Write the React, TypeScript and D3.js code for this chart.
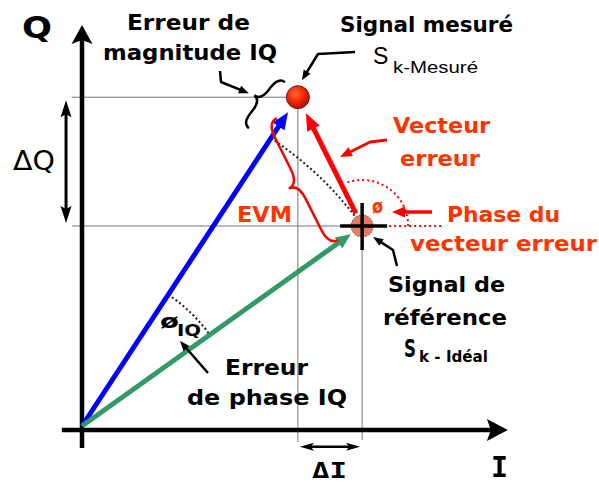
import React from 'react';
import * as d3 from 'd3';

// Points of the I/Q plane (arbitrary units)
const pointNames = ['origine', 'mesure', 'reference'];
const pointI = [0, 5.14, 6.67];
const pointQ = [0, 8.22, 5.0];

// axis extents in the same units
const axisI = [-0.48, 10.14];
const axisQ = [-0.55, 10.025];

const W = 599;
const H = 485;

const x = d3.scaleLinear().domain([0, 10]).range([82, 502]);
const y = d3.scaleLinear().domain([0, 10]).range([426, 26]);

type Pt = [number, number];

const P: Pt[] = pointNames.map((_, i) => [x(pointI[i]), y(pointQ[i])]);
const O = P[0], M = P[1], R = P[2];

const sans = "'DejaVu Sans', sans-serif";
const mono = "'DejaVu Sans Mono', monospace";
const arial = "'Liberation Sans', Arial, sans-serif";
const RED = '#ff0000';
const REDTXT = '#ff3300';

// point on segment a->b, at distance gap before b
function toward(a: Pt, b: Pt, gap: number): Pt {
  const d = Math.hypot(b[0] - a[0], b[1] - a[1]);
  return [b[0] - ((b[0] - a[0]) / d) * gap, b[1] - ((b[1] - a[1]) / d) * gap];
}

function headPts(tip: Pt, from: Pt, len: number, wid: number, notch = 0) {
  const dx = tip[0] - from[0], dy = tip[1] - from[1];
  const l = Math.hypot(dx, dy);
  const ux = dx / l, uy = dy / l, nx = -uy, ny = ux;
  const bx = tip[0] - ux * len, by = tip[1] - uy * len;
  return [
    [tip[0], tip[1]],
    [bx + (nx * wid) / 2, by + (ny * wid) / 2],
    [tip[0] - ux * (len - notch), tip[1] - uy * (len - notch)],
    [bx - (nx * wid) / 2, by - (ny * wid) / 2],
  ].map(p => p.join(',')).join(' ');
}

function Arrow({ pts, color, sw, len, wid, notch = 0, both = false }:
  { pts: Pt[]; color: string; sw: number; len: number; wid: number; notch?: number; both?: boolean }) {
  const n = pts.length;
  const line = pts.map(p => [...p] as Pt);
  line[n - 1] = toward(pts[n - 2], pts[n - 1], len * 0.7);
  if (both) line[0] = toward(pts[1], pts[0], len * 0.7);
  return (
    <g>
      <polyline points={line.map(p => p.join(',')).join(' ')} fill="none" stroke={color}
        strokeWidth={sw} strokeLinejoin="round" strokeLinecap="butt" />
      <polygon points={headPts(pts[n - 1], pts[n - 2], len, wid, notch)} fill={color} />
      {both && <polygon points={headPts(pts[0], pts[1], len, wid, notch)} fill={color} />}
    </g>
  );
}

// curly brace from a to b, tip pointing to the left normal of a->b
function bracePath(a: Pt, b: Pt, d: number) {
  const L = Math.hypot(b[0] - a[0], b[1] - a[1]);
  const ux = (b[0] - a[0]) / L, uy = (b[1] - a[1]) / L;
  const nx = -uy, ny = ux;
  const w = Math.min(d * 0.8, L / 4);
  const q = (s: number, h: number) => `${a[0] + ux * s + nx * h},${a[1] + uy * s + ny * h}`;
  return `M${q(0, 0)} Q${q(0, d / 2)} ${q(w, d / 2)} L${q(L / 2 - w, d / 2)} Q${q(L / 2, d / 2)} ${q(L / 2, d)} ` +
    `Q${q(L / 2, d / 2)} ${q(L / 2 + w, d / 2)} L${q(L - w, d / 2)} Q${q(L, d / 2)} ${q(L, 0)}`;
}

function arcPath(c: Pt, r: number, a0: number, a1: number, ccw: boolean) {
  const p = d3.path();
  p.arc(c[0], c[1], r, a0, a1, ccw);
  return p.toString();
}

export default function App() {
  const angBlue = Math.atan2(M[1] - O[1], M[0] - O[0]);
  const angGreen = Math.atan2(R[1] - O[1], R[0] - O[0]);
  const angErr = Math.atan2(M[1] - R[1], M[0] - R[0]);
  const rRef = Math.hypot(R[0] - O[0], R[1] - O[1]);
  const axisY = y(-0.1);

  const blueTip = toward(O, M, 18);
  const greenTip = toward(O, R, 14);
  const redStart = toward(M, R, 14);
  const redTip = toward(R, M, 18);

  const txt = (t: string, px: number, py: number, w: number, opts: any = {}) => (
    <text x={px} y={py} textLength={w} lengthAdjust="spacingAndGlyphs"
      fontFamily={opts.family || sans} fontWeight={opts.weight || 'bold'} fontSize={opts.size || 22}
      fill={opts.color || '#000'}>{t}</text>
  );

  return (
    <svg width={W} height={H} style={{ position: 'fixed', left: 0, top: 0, background: '#fff' }}>
      <defs>
        <radialGradient id="gm" cx="40%" cy="35%" r="65%">
          <stop offset="0%" stopColor="#ff6a2a" />
          <stop offset="60%" stopColor="#ee2200" />
          <stop offset="100%" stopColor="#b01000" />
        </radialGradient>
      </defs>
      <rect width={W} height={H} fill="#fff" />

      {/* guide lines */}
      <g stroke="#777" strokeWidth={1}>
        <line x1={x(-0.24)} x2={M[0]} y1={M[1]} y2={M[1]} />
        <line x1={x(-0.24)} x2={R[0]} y1={R[1]} y2={R[1]} />
        <line x1={M[0]} x2={M[0]} y1={M[1]} y2={y(-0.4)} />
        <line x1={R[0]} x2={R[0]} y1={R[1]} y2={y(-0.35)} />
      </g>

      {/* axes */}
      <Arrow pts={[[x(0), y(axisQ[0])], [x(0), y(axisQ[1])]]} color="#000" sw={4.5} len={19} wid={21} notch={4} />
      <Arrow pts={[[x(axisI[0]), axisY], [x(axisI[1]), axisY]]} color="#000" sw={4.5} len={21} wid={22} notch={4} />

      {/* delta arrows */}
      <Arrow pts={[[x(-0.38), M[1] + 3], [x(-0.38), R[1] - 3]]} color="#000" sw={3} len={17} wid={11} notch={3} both />
      <Arrow pts={[[M[0] + 2, y(-0.52)], [R[0] - 2, y(-0.52)]]} color="#000" sw={2.5} len={14} wid={8} notch={3} both />

      {/* dotted arcs */}
      <path d={arcPath(O, rRef, angBlue, angGreen - 12 / rRef, false)} fill="none" stroke="#222" strokeWidth={2} strokeDasharray="2 2.5" />
      <path d={arcPath(O, 157, angBlue, angGreen, false)} fill="none" stroke="#222" strokeWidth={2} strokeDasharray="2 2.5" />
      <path d={arcPath(R, 46, 0, angErr + 0.12, true)} fill="none" stroke={RED} strokeWidth={2} strokeDasharray="2 3" />
      <line x1={R[0] + 12} x2={442} y1={R[1]} y2={R[1]} stroke={RED} strokeWidth={2} strokeDasharray="2 3" />

      {/* vectors */}
      <Arrow pts={[O, blueTip]} color="#0000ff" sw={5} len={17} wid={14} />
      <Arrow pts={[O, greenTip]} color="#339966" sw={5} len={15} wid={13} />
      <Arrow pts={[redStart, redTip]} color={RED} sw={5} len={17} wid={14} />

      {/* points */}
      <circle cx={M[0]} cy={M[1]} r={11.5} fill="url(#gm)" stroke="#6a1a1a" strokeWidth={1} />
      <circle cx={R[0]} cy={R[1]} r={11} fill="#e86a50" fillOpacity={0.9} stroke="#444" strokeWidth={1} strokeDasharray="1.5 1.5" />
      <g stroke="#000" strokeWidth={3.5}>
        <line x1={R[0] - 22} x2={R[0] + 25} y1={R[1]} y2={R[1]} />
        <line x1={R[0]} x2={R[0]} y1={R[1] - 23} y2={R[1] + 24} />
      </g>

      {/* braces */}
      <path d={bracePath([M[0] - 13, M[1] - 15], [M[0] - 49, M[1] + 31], 16)} fill="none" stroke="#000" strokeWidth={2.5} />
      <path d={bracePath([M[0] - 21, M[1] + 21], [R[0] - 24, R[1] + 14], 21)} fill="none" stroke={RED} strokeWidth={2.5} />

      {/* annotation arrows */}
      <Arrow pts={[[220, 71], [221, 82], [M[0] - 49, M[1] - 4]]} color="#000" sw={2.5} len={10} wid={8} />
      <Arrow pts={[[355, 52], [318, 54], [M[0] + 4, M[1] - 17]]} color="#000" sw={2.5} len={10} wid={8} />
      <Arrow pts={[[397, 266], [393, 250], [R[0] + 11, R[1] + 11]]} color="#000" sw={2.5} len={10} wid={8} />
      <Arrow pts={[[208, 373], [180, 341]]} color="#000" sw={2.5} len={10} wid={8} />
      <Arrow pts={[[387, 140], [370, 142], [340, 157]]} color={RED} sw={3} len={12} wid={10} />
      <Arrow pts={[[432, 212], [392, 212]]} color={RED} sw={3.5} len={13} wid={11} />

      {/* labels */}
      {txt('Q', 22, 38, 30, { size: 30 })}
      {txt('Erreur de', 127, 30, 123)}
      {txt('magnitude IQ', 103, 60, 174)}
      {txt('Signal mesuré', 340, 32, 173)}
      <text x={373} y={64} fontFamily={arial} fontSize={23}>S</text>
      {txt('k-Mesuré', 393, 73, 85, { family: arial, size: 17, weight: 'normal' })}
      {txt('Vecteur', 393, 133, 97, { color: REDTXT })}
      {txt('erreur', 400, 166, 80, { color: REDTXT })}
      {txt('EVM', 237, 222, 55, { color: REDTXT })}
      {txt('ø', 372, 213, 11, { color: REDTXT, size: 20 })}
      {txt('Phase du', 447, 222, 113, { color: REDTXT })}
      {txt('vecteur erreur', 410, 251, 187, { color: REDTXT })}
      {txt('Signal de', 388, 292, 117)}
      {txt('référence', 383, 325, 124)}
      {txt('S', 404, 357, 12, { size: 24 })}
      {txt('k - Idéal', 419, 362, 69, { size: 15 })}
      {txt('Erreur', 225, 375, 83)}
      {txt('de phase IQ', 187, 405, 160)}
      {txt('ø', 160, 328, 19, { size: 20 })}
      {txt('IQ', 177, 336, 24, { size: 15 })}
      {txt('ΔQ', 13, 170, 42, { size: 26, weight: 'normal' })}
      {txt('ΔI', 312, 478, 35, { family: mono, size: 22 })}
      {txt('I', 491, 477, 17, { family: mono, size: 28 })}
    </svg>
  );
}
